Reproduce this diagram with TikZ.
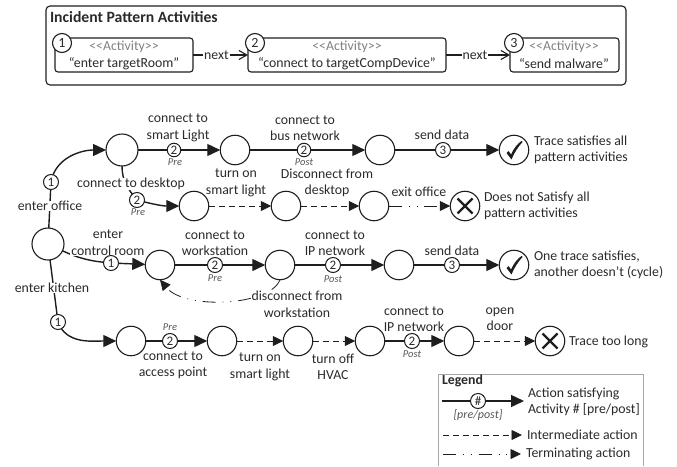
\documentclass[tikz,border=0pt]{standalone}
\usepackage{fontspec}
\setmainfont{Carlito}
\usetikzlibrary{arrows.meta}
\definecolor{ink}{HTML}{1E1E1E}
\definecolor{txt}{HTML}{2A2A2A}
\tikzset{
  every node/.style={text=txt,font=\fontsize{13.8}{16.5}\selectfont,inner sep=0pt,outer sep=0pt},
  state/.style={circle,draw=ink,line width=1.1pt,minimum size=29.5pt,fill=white},
  bigstate/.style={state,minimum size=32pt},
  badge/.style={circle,draw=ink,line width=1pt,minimum size=15pt,fill=white,font=\fontsize{13}{13}\selectfont},
  smallbadge/.style={badge,minimum size=13.5pt},
  actbadge/.style={circle,draw=ink,line width=1.1pt,minimum size=19pt,fill=white,font=\fontsize{14}{14}\selectfont},
  actbox/.style={draw=ink,line width=1.1pt,rounded corners=3pt,anchor=north west},
  lbl/.style={align=center},
  lblw/.style={align=center,fill=white,inner xsep=1pt,inner ysep=0.5pt},
  res/.style={align=left,anchor=west},
  tag/.style={font=\fontsize{10.5}{11}\selectfont\itshape,text=ink!75},
  sat/.style={draw=ink,line width=1.4pt,-{Triangle[length=13pt,width=12pt]}},
  seg/.style={draw=ink,line width=1.4pt},
  inter/.style={draw=ink,line width=0.8pt,dash pattern=on 6pt off 4pt,-{Triangle[length=10.5pt,width=10pt,fill=ink]}},
  term/.style={draw=ink,line width=0.8pt,dash pattern=on 13pt off 7pt on 0.8pt off 7pt on 0.8pt off 7pt,-{Triangle[length=10.5pt,width=10pt,fill=ink]}},
  nextarrow/.style={draw=ink,line width=1.1pt,-{Straight Barb[length=8pt,width=9pt]}},
}
\begin{document}
\begin{tikzpicture}[x=1pt,y=-1pt]
\useasboundingbox (0,0) rectangle (677,466);
% pattern box
\node[draw=ink,line width=1.1pt,rounded corners=4pt,minimum width=580pt,minimum height=79pt,anchor=north west] (pattern) at (46,6) {};
\node[anchor=west,font=\fontsize{15.7}{18}\selectfont\bfseries] (ptitle) at (50,17) {Incident Pattern Activities};
\node[actbox,minimum width=138pt,minimum height=34pt] (act1) at (55,38) {};
\node[actbox,minimum width=198pt,minimum height=34pt] (act2) at (248,38) {};
\node[actbox,minimum width=109pt,minimum height=34pt] (act3) at (510,38) {};
\node[text=gray] (a1s) at (124,47) {<{}<Activity>{}>};
\node (a1t) at (124,64) {“enter targetRoom”};
\node[text=gray] (a2s) at (347,47) {<{}<Activity>{}>};
\node (a2t) at (347,64) {“connect to targetCompDevice”};
\node[text=gray] (a3s) at (564,47) {<{}<Activity>{}>};
\node (a3t) at (564,64) {“send malware”};
\node[actbadge] (ab1) at (62,43) {1};
\node[actbadge] (ab2) at (255,43) {2};
\node[actbadge] (ab3) at (514,43) {3};
\draw[nextarrow] (act1.east) -- (act2.west) node[midway,fill=white,inner xsep=1pt,xshift=-4pt] (n1) {next};
\draw[nextarrow] (act2.east) -- (act3.west) node[midway,fill=white,inner xsep=1pt,xshift=-3pt] (n2) {next};
% states
\node[bigstate] (s0) at (48,244) {};
\node[bigstate] (A) at (122,150) {};
\node[state] (B) at (235,150) {};
\node[state] (C) at (380,150) {};
\node[state] (R1) at (514,150) {};
\node[state] (D) at (194,206) {};
\node[state] (E) at (286,206) {};
\node[state] (F) at (374,206) {};
\node[state] (R2) at (465,206) {};
\node[state] (G) at (160,265) {};
\node[state] (H) at (280,265) {};
\node[state] (I) at (399,265) {};
\node[state] (R3) at (514,265) {};
\node[state] (J) at (131,341) {};
\node[state] (K) at (222,341) {};
\node[state] (L) at (298,341) {};
\node[state] (M) at (370,341) {};
\node[state] (N) at (459,341) {};
\node[state] (R4) at (550,341) {};
% marks
\foreach \r in {R1,R3}{
  \fill[ink] ([shift={(-7.5,3)}]\r.center) -- ([shift={(-5.5,1)}]\r.center) -- ([shift={(-3,4.5)}]\r.center) .. controls ([shift={(-0.5,-1)}]\r.center) and ([shift={(3,-6)}]\r.center) .. ([shift={(7.5,-9)}]\r.center) -- ([shift={(8.5,-8)}]\r.center) .. controls ([shift={(4,-3)}]\r.center) and ([shift={(0,3)}]\r.center) .. ([shift={(-2.5,9.5)}]\r.center) -- cycle;
}
\foreach \r in {R2,R4}{
  \draw[ink,line width=2.4pt] ([shift={(-7.5,-7.5)}]\r.center) -- ([shift={(7.5,7.5)}]\r.center);
  \draw[ink,line width=2.4pt] ([shift={(-7.5,7.5)}]\r.center) -- ([shift={(7.5,-7.5)}]\r.center);
}
% badge positions
\coordinate (b1) at (51,182);
\coordinate (b2) at (174,150);
\coordinate (b3) at (304,150);
\coordinate (b4) at (443,150);
\coordinate (b5) at (137,200);
\coordinate (b6) at (111,263);
\coordinate (b7) at (215,265);
\coordinate (b8) at (333,265);
\coordinate (b9) at (452,265);
\coordinate (b10) at (58,322);
\coordinate (b11) at (170,341);
\coordinate (b12) at (412,341);
% connectors
\draw[seg] (s0) -- (b1);
\draw[sat] (b1) to[out=80,in=180] (A);
\draw[seg] (A) -- (b2);
\draw[sat] (b2) -- (B);
\draw[seg] (B) -- (b3);
\draw[sat] (b3) -- (C);
\draw[seg] (C) -- (b4);
\draw[sat] (b4) -- (R1);
\draw[seg] (A.south) to[out=-90,in=130] (b5);
\draw[sat] (b5) to[out=-15,in=180] (D);
\draw[inter] (D) -- (E);
\draw[inter] (E) -- (F);
\draw[term] (F) -- (R2);
\draw[seg] (s0) to[out=-25,in=175] (b6);
\draw[sat] (b6) -- (G);
\draw[seg] (G) -- (b7);
\draw[sat] (b7) -- (H);
\draw[seg] (H) -- (b8);
\draw[sat] (b8) -- (I);
\draw[seg] (I) -- (b9);
\draw[sat] (b9) -- (R3);
\draw[term] (H.south) .. controls (270,306) and (185,310) .. (G.south);
\draw[seg] (s0) -- (b10);
\draw[sat] (b10) to[out=-70,in=180] (J);
\draw[seg] (J) -- (b11);
\draw[sat] (b11) -- (K);
\draw[inter] (K) -- (L);
\draw[inter] (L) -- (M);
\draw[seg] (M) -- (b12);
\draw[sat] (b12) -- (N);
\draw[inter] (N) -- (R4);
% labels that break a connector
\node[lblw] (l5) at (131,184) {connect to desktop};
\node[lblw] (l8) at (50,206) {enter office};
\node[lblw] (l10) at (108,251) {control room};
\node[lblw] (l14) at (297,296) {disconnect from};
\node[lblw] (l16) at (52,288) {enter kitchen};
% badges
\node[badge] (n1b) at (b1) {1};
\node[smallbadge] (n2b) at (b2) {2};
\node[smallbadge] (n3b) at (b3) {2};
\node[badge] (n4b) at (b4) {3};
\node[badge] (n5b) at (b5) {2};
\node[badge] (n6b) at (b6) {1};
\node[badge] (n7b) at (b7) {2};
\node[badge] (n8b) at (b8) {2};
\node[badge] (n9b) at (b9) {3};
\node[badge] (n10b) at (b10) {1};
\node[badge] (n11b) at (b11) {2};
\node[badge] (n12b) at (b12) {2};
% tags
\node[tag] (t1) at (175,162) {Pre};
\node[tag] (t2) at (304,162) {Post};
\node[tag] (t3) at (138,212) {Pre};
\node[tag] (t4) at (215,278) {Pre};
\node[tag] (t5) at (333,279) {Post};
\node[tag] (t6) at (170,327) {Pre};
\node[tag] (t7) at (412,354) {Post};
% labels
\node[lbl] (l1) at (178,128) {connect to\\smart Light};
\node[lbl] (l2) at (305,128) {connect to\\bus network};
\node[lbl] (l3) at (442,135) {send data};
\node[lbl] (l4) at (236,183) {turn on\\smart light};
\node[lbl] (l6) at (327,183) {Disconnect from\\desktop};
\node[lbl] (l7) at (419,192) {exit office};
\node[lbl] (l9) at (108,234) {enter};
\node[lbl] (l11) at (215,243) {connect to\\workstation};
\node[lbl] (l12) at (335,243) {connect to\\IP network};
\node[lbl] (l13) at (452,251) {send data};
\node[lbl] (l15) at (297,313) {workstation};
\node[lbl] (l17) at (173,365) {connect to\\access point};
\node[lbl] (l18) at (260,367) {turn on\\smart light};
\node[lbl] (l19) at (333,367) {turn off\\HVAC};
\node[lbl] (l20) at (414,319) {connect to\\IP network};
\node[lbl] (l21) at (500,319) {open\\door};
\node[res] (r1) at (534,150) {Trace satisfies all\\pattern activities};
\node[res] (r2) at (484,206) {Does not Satisfy all\\pattern activities};
\node[res] (r3) at (534,265) {One trace satisfies,\\another doesn't (cycle)};
\node[res] (r4) at (569,342) {Trace too long};
% legend
\draw[gray!70,line width=1pt] (438,466) -- (438,374) -- (643,374) -- (643,466);
\node[anchor=west,font=\fontsize{13.8}{16}\selectfont\bfseries] (lg) at (442,381) {Legend};
\coordinate (lgA) at (442,401);
\coordinate (lgB) at (524,401);
\coordinate (lgC) at (443,435);
\coordinate (lgD) at (522,435);
\coordinate (lgE) at (443,454);
\coordinate (lgF) at (521,454);
\draw[sat] (lgA) -- (lgB);
\node[badge] (lgb) at (478,401) {\#};
\node[tag,font=\fontsize{12}{12}\selectfont\itshape] (lgt) at (478,415) {[pre/post]};
\draw[inter] (lgC) -- (lgD);
\draw[term] (lgE) -- (lgF);
\node[res] (lg1) at (528,402) {Action satisfying\\Activity \# [pre/post]};
\node[res] (lg2) at (527,435) {Intermediate action};
\node[res] (lg3) at (526,454) {Terminating action};
\end{tikzpicture}
\end{document}
